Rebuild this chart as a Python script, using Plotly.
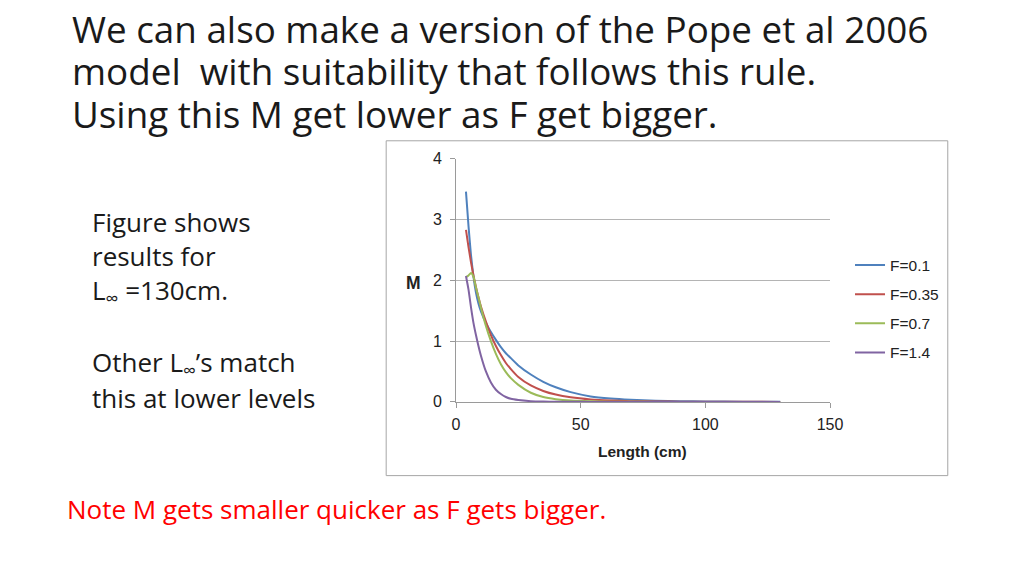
import plotly.graph_objects as go

# Length (cm) at which each curve was read
lengths = [4, 5, 6, 7, 8, 9, 10, 12, 14, 16, 18, 20, 22, 25, 30, 35, 40, 46, 54, 62, 70, 80, 90, 100, 115, 130]

m_f01 = [3.46, 2.90, 2.42, 2.06, 1.80, 1.62, 1.49, 1.30, 1.15, 1.02, 0.90, 0.80, 0.72, 0.60, 0.45, 0.33, 0.24,
         0.16, 0.09, 0.055, 0.035, 0.02, 0.012, 0.008, 0.004, 0.002]
m_f035 = [2.83, 2.55, 2.30, 2.08, 1.89, 1.72, 1.57, 1.32, 1.10, 0.92, 0.77, 0.64, 0.54, 0.41, 0.27, 0.18, 0.12,
          0.075, 0.04, 0.022, 0.012, 0.006, 0.003, 0.002, 0.001, 0.0]
m_f07 = [2.05, 2.08, 2.12, 2.06, 1.88, 1.72, 1.55, 1.25, 1.00, 0.79, 0.62, 0.49, 0.39, 0.28, 0.15, 0.08, 0.045,
         0.022, 0.01, 0.004, 0.002, 0.0, 0.0, 0.0, 0.0, 0.0]
m_f14 = [2.07, 1.85, 1.56, 1.30, 1.10, 0.92, 0.76, 0.50, 0.32, 0.20, 0.13, 0.08, 0.05, 0.03, 0.012, 0.005, 0.002,
         0.001, 0.0, 0.0, 0.0, 0.0, 0.0, 0.0, 0.0, 0.0]

series_names = ["F=0.1", "F=0.35", "F=0.7", "F=1.4"]
series_vals = [m_f01, m_f035, m_f07, m_f14]
colors = ["#4F81BD", "#C0504D", "#9BBB59", "#8064A2"]

# page body keeps an 8px margin; the shot comes out slightly squeezed, so
# slide pixel positions are mapped back into figure fractions here
OFF = 8
W, H = 1024 - 2 * OFF, 576 - 2 * OFF
SX, BX = 0.9856, 2.0
SY, BY = 0.973, 7.0


def px(x):
    return ((x - BX) / SX - OFF) / W


def py(y):
    return 1 - ((y - BY) / SY - OFF) / H


fig = go.Figure()

for name, vals, col in zip(series_names, series_vals, colors):
    fig.add_trace(go.Scatter(
        x=lengths, y=vals, name=name, mode="lines",
        line=dict(color=col, width=2, shape="spline", smoothing=0.5),
        legendgroup=name
    ))

# chart frame
fig.add_shape(type="rect", xref="paper", yref="paper",
              x0=px(385), x1=px(948), y0=py(476), y1=py(140),
              line=dict(color="#a6a6a6", width=1), layer="below")

txt_font = "Open Sans"

title_lines = [
    ("We can also make a version of the Pope et al 2006", 27.4),
    ("model  with suitability that follows this rule.", 70),
    ("Using this M get lower as F get bigger.", 113),
]
for line, yy in title_lines:
    fig.add_annotation(x=px(68), y=py(yy), xref="paper", yref="paper",
                       text=line, showarrow=False, xanchor="left", yanchor="middle",
                       font=dict(family=txt_font, size=36.8, color="#1a1a1a"))

side_lines = [
    ("Figure shows", 221),
    ("results for", 256),
    ("L<sub>∞</sub> =130cm.", 291),
    ("Other L<sub>∞</sub>’s match", 363),
    ("this at lower levels", 398),
]
for line, yy in side_lines:
    fig.add_annotation(x=px(88), y=py(yy), xref="paper", yref="paper",
                       text=line, showarrow=False, xanchor="left", yanchor="middle",
                       font=dict(family=txt_font, size=26, color="#1a1a1a"))

fig.add_annotation(x=px(63), y=py(509), xref="paper", yref="paper",
                   text="Note M gets smaller quicker as F gets bigger.", showarrow=False,
                   xanchor="left", yanchor="middle",
                   font=dict(family=txt_font, size=26, color="#ff0000"))

# axis titles
fig.add_annotation(x=px(642), y=py(452), xref="paper", yref="paper", text="<b>Length (cm)</b>",
                   showarrow=False, xanchor="center", yanchor="middle",
                   font=dict(family="Liberation Sans", size=15.5, color="#222"))
fig.add_annotation(x=px(412), y=py(283), xref="paper", yref="paper", text="<b>M</b>",
                   showarrow=False, xanchor="center", yanchor="middle",
                   font=dict(family="Liberation Sans", size=17.5, color="#222"))

fig.update_layout(
    width=W, height=H,
    margin=dict(l=0, r=0, t=0, b=0),
    paper_bgcolor="white", plot_bgcolor="white",
    showlegend=True,
    legend=dict(x=px(850), y=py(248), xanchor="left", yanchor="top",
                font=dict(family="Liberation Sans", size=15.5, color="#222"),
                tracegroupgap=6, itemwidth=30, bgcolor="rgba(0,0,0,0)"),
    xaxis=dict(domain=[px(455), px(830)], range=[0, 150], tickvals=[0, 50, 100, 150],
               showgrid=False, zeroline=False, showline=True, linecolor="#9a9a9a",
               ticks="outside", ticklen=5, tickcolor="#9a9a9a", ticklabelstandoff=3,
               tickfont=dict(family="Liberation Sans", size=16, color="#222")),
    yaxis=dict(domain=[py(402), py(158)], range=[0, 4], dtick=1,
               showgrid=True, gridcolor="#b4b4b4", zeroline=False,
               showline=True, linecolor="#9a9a9a",
               ticks="outside", ticklen=5, tickcolor="#9a9a9a", ticklabelstandoff=5,
               tickfont=dict(family="Liberation Sans", size=16, color="#222")),
)

fig.write_html("out.html")
